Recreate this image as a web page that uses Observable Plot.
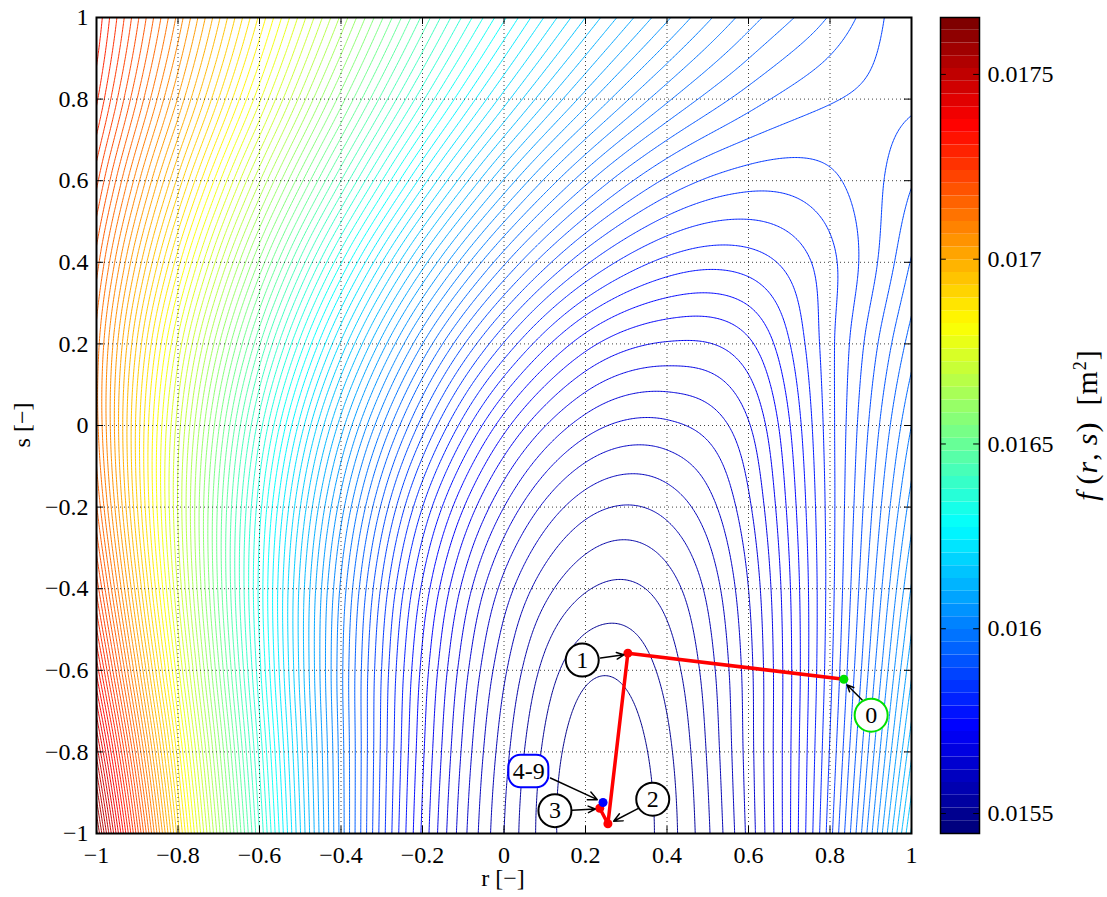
<!DOCTYPE html>
<html><head><meta charset="utf-8">
<script src="https://cdn.jsdelivr.net/npm/d3@7"></script>
<script src="https://cdn.jsdelivr.net/npm/@observablehq/plot@0.6"></script>
<style>
body{margin:0;background:#fff;}
#wrap{position:relative;width:1107px;height:897px;font-family:"Liberation Serif","Times New Roman",serif;color:#000;}
#main{position:absolute;left:0;top:0;}
#cbar{position:absolute;left:930px;top:0;}
.lab{position:absolute;font-size:24px;line-height:24px;white-space:nowrap;}
</style></head><body>
<div id="wrap">
<div id="main"></div><div id="cbar"></div>
<div class="lab" style="left:503px;top:866px;transform:translateX(-50%);">r [−]</div>
<div class="lab" style="left:22px;top:425px;transform:translate(-50%,-50%) rotate(-90deg);">s [−]</div>
<div class="lab" style="left:1083px;top:425px;font-size:30px;line-height:30px;letter-spacing:1px;transform:translate(-50%,-50%) rotate(-90deg);"><i>f</i>&#8201;(<i>r</i>,&#8201;<i>s</i>)&#8194;[m<sup style="font-size:18px">2</sup>]</div>
</div>
<script>
// ---------------- data ----------------
const rTicks = [-1, -0.8, -0.6, -0.4, -0.2, 0, 0.2, 0.4, 0.6, 0.8, 1];
const sTicks = [-1, -0.8, -0.6, -0.4, -0.2, 0, 0.2, 0.4, 0.6, 0.8, 1];
const colorbarTicks = [0.0155, 0.016, 0.0165, 0.017, 0.0175];
const fRange = [0.015446, 0.017654];          // colour-bar limits (m²)
const levelCount = 100;                        // number of contour levels
// f(r,s) at the grid nodes r = rTicks, s = sTicks, expressed as the number of
// contour steps above the colour-bar minimum. Rows: s = -1 (first) ... s = 1 (last).
const fLevelGrid = [
 [99.3, 67.5, 43.0, 24.6, 11.8, 4.0, 0.2, 1.5, 7.3, 17.6, 33.2],
 [93.6, 64.5, 41.7, 24.5, 12.2, 4.4, 0.35, 1.75, 7.5, 17.1, 30.8],
 [87.7, 61.3, 40.3, 24.3, 12.7, 5.2, 1.25, 2.4, 7.6, 16.7, 28.8],
 [82.7, 58.9, 39.7, 24.8, 13.8, 6.6, 3.1, 3.5, 8.0, 16.5, 27.1],
 [79.1, 57.9, 40.4, 26.5, 16.0, 9.0, 5.4, 5.35, 8.8, 16.5, 25.5],
 [77.4, 58.5, 42.5, 29.5, 19.5, 12.4, 8.5, 7.8, 9.9, 16.6, 24.0],
 [77.6, 60.7, 46.1, 33.8, 24.0, 16.9, 12.4, 10.9, 11.8, 16.7, 22.5],
 [79.5, 64.4, 50.8, 39.1, 29.5, 22.2, 17.2, 14.7, 14.5, 16.7, 21.1],
 [82.3, 68.7, 56.1, 45.0, 35.5, 27.9, 22.3, 18.8, 17.4, 17.8, 19.9],
 [85.2, 72.9, 61.2, 50.5, 41.2, 33.5, 27.5, 23.2, 20.5, 19.1, 18.8],
 [86.8, 75.7, 64.8, 54.8, 45.8, 38.2, 32.0, 27.2, 23.5, 20.9, 18.0]
];
// iteration path (iterates 0, 1, 2, 3 and the converged point 4-9)
const iterR = [0.834, 0.304, 0.255, 0.235, 0.243];
const iterS = [-0.622, -0.558, -0.976, -0.938, -0.924];
const iterNames = ["0", "1", "2", "3", "4-9"];

// ---------------- derived ----------------
const dF = (fRange[1] - fRange[0]) / (levelCount + 1);
const fGrid = fLevelGrid.map(row => row.map(k => fRange[0] + k * dF));
const levels = d3.range(1, levelCount + 1).map(k => fRange[0] + k * dF);

// smooth (Catmull-Rom) sampling of the node grid for the contour mark
const N = rTicks.length, step = rTicks[1] - rTicks[0];
function extRow(a, k) { if (k < 0) return 3*a[0]-3*a[1]+a[2]; if (k > N-1) return 3*a[N-1]-3*a[N-2]+a[N-3]; return a[k]; }
function gridRow(j) { if (j < 0) return fGrid[0].map((v,i)=>3*v-3*fGrid[1][i]+fGrid[2][i]); if (j > N-1) return fGrid[N-1].map((v,i)=>3*v-3*fGrid[N-2][i]+fGrid[N-3][i]); return fGrid[j]; }
const ext = []; for (let j = -1; j <= N; j++) { const row = gridRow(j); const e = []; for (let i = -1; i <= N; i++) e.push(extRow(row, i)); ext.push(e); }
function cr(p0,p1,p2,p3,t){return p1+0.5*t*(p2-p0+t*(2*p0-5*p1+4*p2-p3+t*(3*(p1-p2)+p3-p0)));}
function sampleF(r, s) {
  const gx = (r - rTicks[0]) / step, gy = (s - sTicks[0]) / step;
  const i = Math.max(0, Math.min(N-2, Math.floor(gx))), j = Math.max(0, Math.min(N-2, Math.floor(gy)));
  const tx = gx - i, ty = gy - j, v = [];
  for (let dj = 0; dj < 4; dj++) { const row = ext[j+dj]; v.push(cr(row[i], row[i+1], row[i+2], row[i+3], tx)); }
  return cr(v[0], v[1], v[2], v[3], ty);
}

const jet = ["#00007f","#0000ff","#007fff","#00ffff","#7fff7f","#ffff00","#ff7f00","#ff0000","#7f0000"];
const colorOpts = {type: "linear", domain: d3.range(9).map(i => fRange[0] + i/8*(fRange[1]-fRange[0])), range: jet, interpolate: "rgb"};
const fmt = d => { const v = +d.toFixed(1); return (v < 0 ? "−" : "") + String(Math.abs(v)); };

// annotation layout (label bubbles and arrows, in r/s coordinates)
const bubbles = [
 {t: "1", x: 0.192, y: -0.575, c: "black"}, {t: "0", x: 0.901, y: -0.710, c: "#00e000"},
 {t: "2", x: 0.365, y: -0.916, c: "black"}, {t: "3", x: 0.125, y: -0.944, c: "black"}];
const boxLabel = {t: "4-9", x: 0.061, y: -0.848, c: "#0000ff"};
const arrows = [
 {x1: 0.237, y1: -0.570, x2: 0.294, y2: -0.562}, {x1: 0.879, y1: -0.673, x2: 0.842, y2: -0.636},
 {x1: 0.331, y1: -0.938, x2: 0.269, y2: -0.970}, {x1: 0.167, y1: -0.943, x2: 0.224, y2: -0.940},
 {x1: 0.114, y1: -0.864, x2: 0.229, y2: -0.917}];
const iter = iterR.map((r, i) => ({r, s: iterS[i], name: iterNames[i]}));

const W = 930, H = 897, mL = 96, mR = 19, mT = 17, mB = 64;
const tickX = 7 * 2 / (H - mT - mB), tickR = 7 * 2 / (W - mL - mR);
const font = '"Liberation Serif","Times New Roman",serif';

const main = Plot.plot({
 width: W, height: H, marginLeft: mL, marginRight: mR, marginTop: mT, marginBottom: mB,
 style: {fontFamily: font, fontSize: "24px", background: "white"},
 x: {domain: [-1, 1], label: null}, y: {domain: [-1, 1], label: null},
 color: colorOpts,
 marks: [
  Plot.contour({x1: -1.02, x2: 1.02, y1: -1.02, y2: 1.02, value: sampleF, stroke: "value", fill: "none",
                thresholds: levels, pixelSize: 1.5, strokeWidth: 1, clip: true}),
  Plot.gridX(rTicks, {stroke: "black", strokeOpacity: 0.75, strokeDasharray: "1,3"}),
  Plot.gridY(sTicks, {stroke: "black", strokeOpacity: 0.75, strokeDasharray: "1,3"}),
  Plot.line(iter, {x: "r", y: "s", stroke: "red", strokeWidth: 3.5}),
  Plot.dot(iter.slice(1, 4), {x: "r", y: "s", r: 4.5, fill: "red"}),
  Plot.dot(iter.slice(0, 1), {x: "r", y: "s", r: 4.5, fill: "#00e000"}),
  Plot.dot(iter.slice(4), {x: "r", y: "s", r: 4.5, fill: "blue"}),
  Plot.arrow(arrows, {x1: "x1", y1: "y1", x2: "x2", y2: "y2", stroke: "black", strokeWidth: 1.5, headLength: 10, headAngle: 50}),
  Plot.dot(bubbles, {x: "x", y: "y", r: 16.5, fill: "white", stroke: "c", strokeWidth: 2}),
  Plot.rect([boxLabel], {x1: d => d.x - 0.049, x2: d => d.x + 0.049, y1: d => d.y - 0.04, y2: d => d.y + 0.04, rx: 12, fill: "white", stroke: "c", strokeWidth: 2}),
  Plot.text([...bubbles, boxLabel], {x: "x", y: "y", text: "t", fontSize: 24, fill: "black"}),
  Plot.frame({stroke: "black", strokeWidth: 2}),
  Plot.ruleX(rTicks, {x: d => d, y1: -1, y2: -1 + tickX, stroke: "black", strokeWidth: 1}),
  Plot.ruleX(rTicks, {x: d => d, y1: 1 - tickX, y2: 1, stroke: "black", strokeWidth: 1}),
  Plot.ruleY(sTicks, {y: d => d, x1: -1, x2: -1 + tickR, stroke: "black", strokeWidth: 1}),
  Plot.ruleY(sTicks, {y: d => d, x1: 1 - tickR, x2: 1, stroke: "black", strokeWidth: 1}),
  Plot.axisX({ticks: rTicks, tickSize: 0, tickPadding: 12, tickFormat: fmt}),
  Plot.axisY({ticks: sTicks, tickSize: 0, tickPadding: 8, tickFormat: fmt})
 ]});
document.getElementById("main").appendChild(main);

const nb = 64, span = fRange[1] - fRange[0];
const bands = d3.range(nb).map(i => ({y1: fRange[0] + i*span/nb, y2: fRange[0] + (i+1)*span/nb, v: fRange[0] + i/(nb-1)*span}));
const cb = Plot.plot({
 width: 177, height: H, marginLeft: 10, marginRight: 128, marginTop: mT, marginBottom: mB,
 style: {fontFamily: font, fontSize: "24px", background: "white"},
 x: {domain: [0, 1], axis: null}, y: {domain: fRange, axis: null}, color: colorOpts,
 marks: [
  Plot.rect(bands, {x1: 0, x2: 1, y1: "y1", y2: "y2", fill: "v"}),
  Plot.ruleY(colorbarTicks, {y: d => d, x1: 0, x2: 0.15, stroke: "black", strokeWidth: 1}),
  Plot.ruleY(colorbarTicks, {y: d => d, x1: 0.85, x2: 1, stroke: "black", strokeWidth: 1}),
  Plot.frame({stroke: "black", strokeWidth: 1.5}),
  Plot.axisY({anchor: "right", ticks: colorbarTicks, tickSize: 0, tickPadding: 8, tickFormat: d => String(d)})
 ]});
document.getElementById("cbar").appendChild(cb);
</script></body></html>
